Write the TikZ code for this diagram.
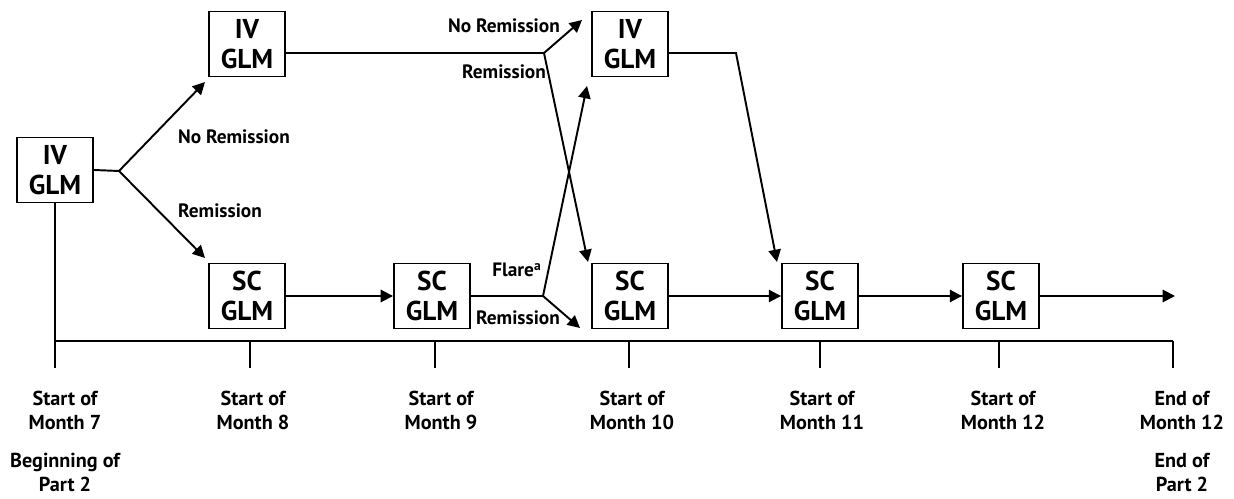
\documentclass[tikz,border=0pt]{standalone}
\usepackage{fontspec}
\setmainfont{PT Sans}
\usetikzlibrary{arrows.meta,positioning}
\tikzset{
  glm/.style={draw,rectangle,line width=1.1pt,minimum width=1.52cm,minimum height=1.3cm,
    align=center,inner sep=0pt,font=\fontsize{15.5}{17}\selectfont\bfseries},
  flow/.style={line width=1.1pt,>={Triangle[length=7pt,width=7pt]}},
  outcome/.style={anchor=base,inner sep=0pt,font=\fontsize{11}{12}\selectfont\bfseries},
  month/.style={anchor=north,align=center,inner sep=0pt,
    font=\fontsize{11.5}{14}\selectfont\bfseries}
}

\begin{document}
\begin{tikzpicture}[x=0.02cm,y=-0.02cm,flow]
  \useasboundingbox (0,0) rectangle (1234,499);
  % treatment boxes
  \node[glm] (iv7) at (55,170) {IV\\GLM};
  \node[glm] (iv8) at (247,44) {IV\\GLM};
  \node[glm] (iv10) at (630,44) {IV\\GLM};
  \node[glm] (sc8) at (247,296) {SC\\GLM};
  \node[glm] (sc9) at (432,296) {SC\\GLM};
  \node[glm] (sc10) at (630,296) {SC\\GLM};
  \node[glm] (sc11) at (820,296) {SC\\GLM};
  \node[glm] (sc12) at (1001,296) {SC\\GLM};
  % branch points and arrow ends
  \coordinate (j7) at (119,171);
  \coordinate (j9iv) at (544,53);
  \coordinate (j9sc) at (543,296);
  \coordinate (bend) at (736,53);
  \coordinate (to iv8) at (205,82);
  \coordinate (to sc8) at (205,258);
  \coordinate (to iv10) at (582,20);
  \coordinate (to sc10) at (588,262);
  \coordinate (flare) at (587,86);
  \coordinate (stay) at (580,328);
  \coordinate (to sc11) at (777,262);
  \coordinate (after) at (1175,296);
  % month 7 split
  \draw (iv7.east) -- (j7);
  \draw[->] (j7) -- (to iv8);
  \draw[->] (j7) -- (to sc8);
  \node[outcome] (nr1) at (234,144) {No Remission};
  \node[outcome] (r1) at (220,218) {Remission};
  % IV arm
  \draw (iv8.east |- j9iv) -- (j9iv);
  \draw[->] (j9iv) -- (to iv10);
  \draw[->] (j9iv) -- (to sc10);
  \node[outcome] (nr2) at (504,33) {No Remission};
  \node[outcome] (r2) at (504,79) {Remission};
  \draw[->] (iv10.east |- bend) -- (bend) -- (to sc11);
  % SC arm
  \draw[->] (sc8) -- (sc9);
  \draw (sc9) -- (j9sc);
  \draw[->] (j9sc) -- (flare);
  \draw[->] (j9sc) -- (stay);
  \node[outcome] (fl) at (517,277) {Flare\textsuperscript{a}};
  \node[outcome] (r3) at (518,325) {Remission};
  \draw[->] (sc10) -- (sc11);
  \draw[->] (sc11) -- (sc12);
  \draw[->] (sc12) -- (after);
  % time line
  \coordinate (t7) at (55,368);
  \draw (iv7.south) -- (t7);
  \draw (55,341) -- (1173,341);
  \draw (250,341) -- (250,368);
  \draw (435,341) -- (435,368);
  \draw (629,341) -- (629,368);
  \draw (820,341) -- (820,368);
  \draw (999,341) -- (999,368);
  \draw (1173,341) -- (1173,368);
  \node[month] (m7) at (65,390) {Start of\\Month 7};
  \node[month] (m8) at (253,390) {Start of\\Month 8};
  \node[month] (m9) at (441,390) {Start of\\Month 9};
  \node[month] (m10) at (632,390) {Start of\\Month 10};
  \node[month] (m11) at (822,390) {Start of\\Month 11};
  \node[month] (m12) at (1003,390) {Start of\\Month 12};
  \node[month] (m12e) at (1182,390) {End of\\Month 12};
  \node[month] (p2b) at (65,452) {Beginning of\\Part 2};
  \node[month] (p2e) at (1182,452) {End of\\Part 2};
\end{tikzpicture}
\end{document}
